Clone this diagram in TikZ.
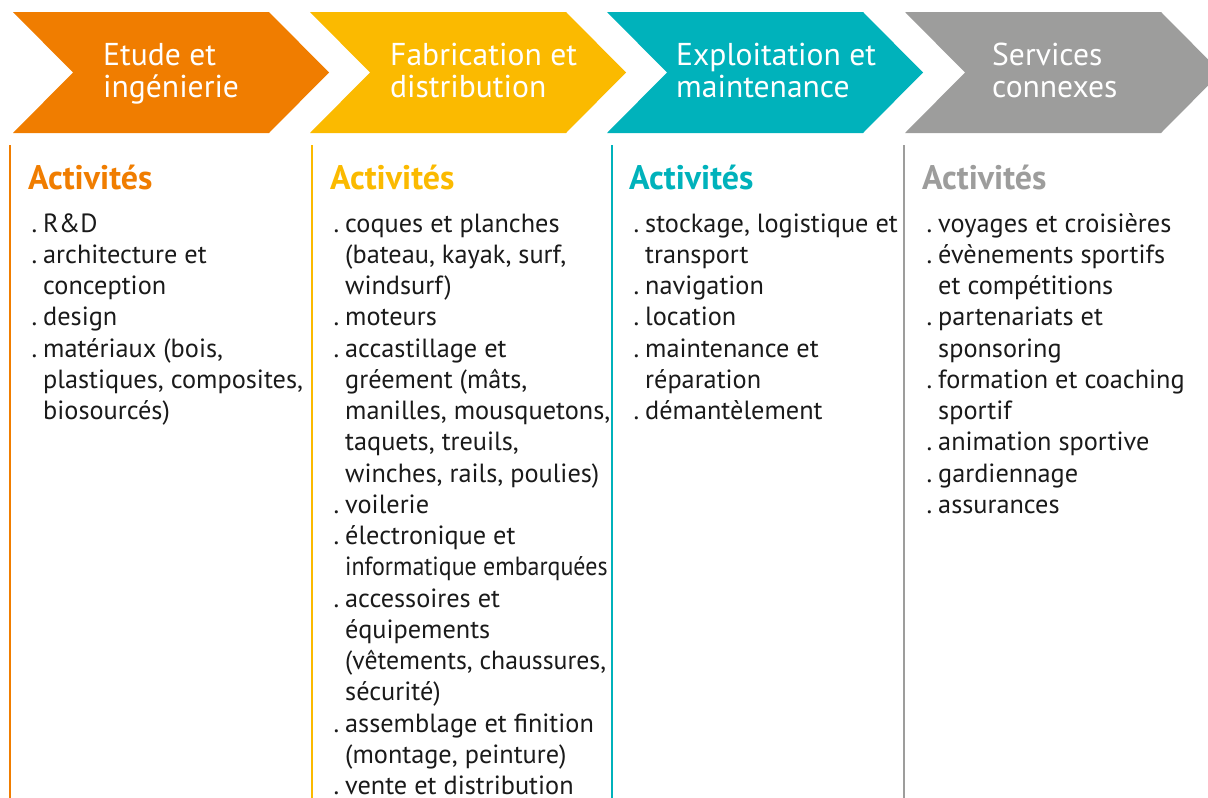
\documentclass[tikz,border=0pt]{standalone}
\usepackage{fontspec}
\usepackage{graphicx}
\setmainfont{PT Sans}
\definecolor{cA}{RGB}{240,125,0}
\definecolor{cB}{RGB}{251,186,0}
\definecolor{cC}{RGB}{0,178,187}
\definecolor{cD}{RGB}{157,157,156}
\definecolor{txt}{RGB}{26,26,26}
\tikzset{
 head/.style={anchor=base west, inner sep=0pt, text=white, font=\fontsize{31.6}{34}\selectfont},
 acti/.style={anchor=base west, inner sep=0pt, text=#1, font=\fontsize{34}{38}\selectfont\bfseries},
 item/.style={anchor=base west, inner sep=0pt, text=txt, font=\fontsize{26.3}{31}\selectfont},
 sepline/.style={draw=#1, line width=2pt},
}
\newcommand\itemdot{\llap{.\hspace{6pt}}}
\newcommand\colitems[3]{%
 \foreach \t [count=\i] in {#3} {\node[item] (#1\i) at (#2, {232+31.25*(\i-1)}) {\t};}}
\begin{document}
\begin{tikzpicture}[x=1pt,y=-1pt]
\useasboundingbox (0,0) rectangle (1208,798);
\begin{scope}
\clip (0,0) rectangle (1208,798);
\foreach \x/\c in {13/cA,310/cB,607/cC,905/cD}{
 \fill[\c] (\x,12) -- ++(256,0) -- ++(60,60.5) -- ++(-60,60.5) -- ++(-256,0) -- ++(60,-60.5) -- cycle;
}
\end{scope}
% headers
\node[head] (h1a) at (103,65) {Etude et};
\node[head] (h1b) at (103,97) {ingénierie};
\node[head] (h2a) at (390,65) {Fabrication et};
\node[head] (h2b) at (390,97) {distribution};
\node[head] (h3a) at (676,65) {Exploitation et};
\node[head] (h3b) at (676,97) {maintenance};
\node[head] (h4a) at (992,65) {Services};
\node[head] (h4b) at (992,97) {connexes};
% separators
\draw[sepline=cA] (10,145) -- (10,798);
\draw[sepline=cB] (312,145) -- (312,798);
\draw[sepline=cC] (612,145) -- (612,798);
\draw[sepline=cD] (904,145) -- (904,798);
% titles
\node[acti=cA] (t1) at (28,189) {Activités};
\node[acti=cB] (t2) at (330,189) {Activités};
\node[acti=cC] (t3) at (629,189) {Activités};
\node[acti=cD] (t4) at (922,189) {Activités};
% items
\colitems{a}{43}{{\itemdot R\&D},{\itemdot architecture et},{conception},{\itemdot design},{\itemdot matériaux (bois,},{plastiques, composites,},{biosourcés)}}
\colitems{b}{345}{{\itemdot coques et planches},{(bateau, kayak, surf,},{windsurf)},{\itemdot moteurs},{\itemdot accastillage et},{gréement (mâts,},{manilles, mousquetons,},{taquets, treuils,},{winches, rails, poulies)},{\itemdot voilerie},{\itemdot électronique et},{\scalebox{0.91}[1]{informatique embarquées}},{\itemdot accessoires et},{équipements},{\scalebox{0.98}[1]{(vêtements, chaussures,}},{sécurité)},{\itemdot assemblage et finition},{(montage, peinture)},{\itemdot vente et distribution}}
\colitems{c}{645}{{\itemdot stockage, logistique et},{transport},{\itemdot navigation},{\itemdot location},{\itemdot maintenance et},{réparation},{\itemdot démantèlement}}
\colitems{d}{938}{{\itemdot voyages et croisières},{\itemdot évènements sportifs},{et compétitions},{\itemdot partenariats et},{sponsoring},{\itemdot formation et coaching},{sportif},{\itemdot animation sportive},{\itemdot gardiennage},{\itemdot assurances}}
\end{tikzpicture}
\end{document}
